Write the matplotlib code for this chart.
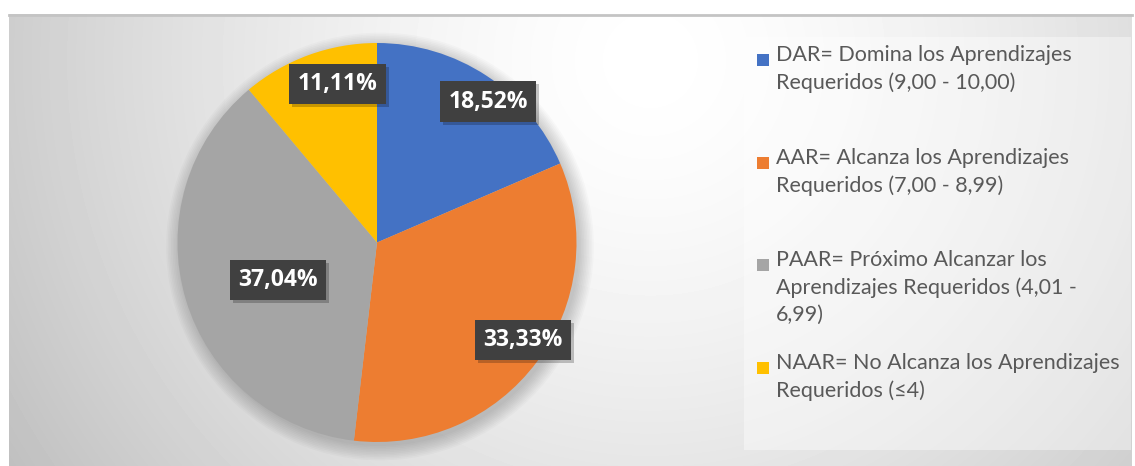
import numpy as np
import matplotlib
matplotlib.use("Agg")
import matplotlib.pyplot as plt
from matplotlib.patches import Rectangle, Circle

W, H = 1135, 466

categories = [
    "DAR= Domina los Aprendizajes\nRequeridos (9,00 - 10,00)",
    "AAR= Alcanza los Aprendizajes\nRequeridos (7,00 - 8,99)",
    "PAAR= Próximo Alcanzar los\nAprendizajes Requeridos (4,01 -\n6,99)",
    "NAAR= No Alcanza los Aprendizajes\nRequeridos (≤4)",
]
values = [18.52, 33.33, 37.04, 11.11]
pct_labels = ["18,52%", "33,33%", "37,04%", "11,11%"]
colors = ["#4472C4", "#ED7D31", "#A5A5A5", "#FFC000"]

# label placement (best-fit look): radius fraction and angle nudge in degrees
label_r = [0.90, 0.88, 0.53, 0.82]
label_nudge = [-5, 3, 4, -6]

plt.rcParams["font.family"] = ["Lato", "DejaVu Sans"]

fig = plt.figure(figsize=(W / 100, H / 100), dpi=100)
fig.patch.set_facecolor("white")

# background: soft radial grey gradient
bg = fig.add_axes([9 / W, 0, (1132 - 9) / W, (H - 14) / H])
bg.set_axis_off()
xx, yy = np.meshgrid(np.arange(9, 1132), np.arange(14, H))
d = np.hypot(xx - 650, yy - 60) / 740
shade = 1 - 0.24 * np.clip(d, 0, 1.1) ** 1.5
bg.imshow(shade, cmap="gray", vmin=0, vmax=1, aspect="auto",
          extent=[9, 1132, H, 14], interpolation="bilinear")
bg.set_xlim(9, 1132); bg.set_ylim(H, 14)
bg.plot([9, 1132], [14.5, 14.5], color="#c4c4c4", lw=2, clip_on=False)

# legend panel
bg.add_patch(Rectangle((744, 37), 1131 - 744, 450 - 37,
                       facecolor="white", alpha=0.4, edgecolor="none"))

# pie
cx, cy, R = 377, 242.5, 199.5
ax = fig.add_axes([(cx - R) / W, (H - cy - R) / H, 2 * R / W, 2 * R / H])
ax.set_axis_off()
for i in range(10):  # soft shadow under the pie
    ax.add_patch(Circle((0.015, -0.02), 1 + 0.008 * i, color="black",
                        alpha=0.018, lw=0, clip_on=False))
wedges, _ = ax.pie(values, colors=colors, startangle=90, counterclock=False,
                   radius=1, wedgeprops=dict(linewidth=0))
ax.set_xlim(-1, 1); ax.set_ylim(-1, 1)

lab_font = dict(family=["Open Sans", "DejaVu Sans"], fontsize=16.5, fontweight="bold")
texts = []
for w, lab, r, nud in zip(wedges, pct_labels, label_r, label_nudge):
    ang = np.deg2rad((w.theta1 + w.theta2) / 2 + nud)
    t = ax.text(r * np.cos(ang), r * np.sin(ang), lab, ha="center", va="center",
                color="white", zorder=5, **lab_font,
                bbox=dict(boxstyle="square,pad=0.36", fc="#404040", ec="none"))
    texts.append(t)

# drop shadow behind each label box
fig.canvas.draw()
for t in texts:
    bb = t.get_bbox_patch().get_window_extent()
    ax.add_patch(Rectangle((bb.x0 + 3, bb.y0 - 3), bb.width, bb.height,
                           transform=None, facecolor="black", alpha=0.22,
                           edgecolor="none", zorder=4, clip_on=False))

# legend entries
slots = [60, 163, 265, 368]
for y0, lab, c in zip(slots, categories, colors):
    bg.add_patch(Rectangle((757, y0 - 6), 12, 12, facecolor=c, edgecolor="none"))
    bg.text(776, y0 - 15, lab, ha="left", va="top", fontsize=15.5,
            color="#595959", linespacing=1.45)

fig.savefig("out.png", dpi=100)
